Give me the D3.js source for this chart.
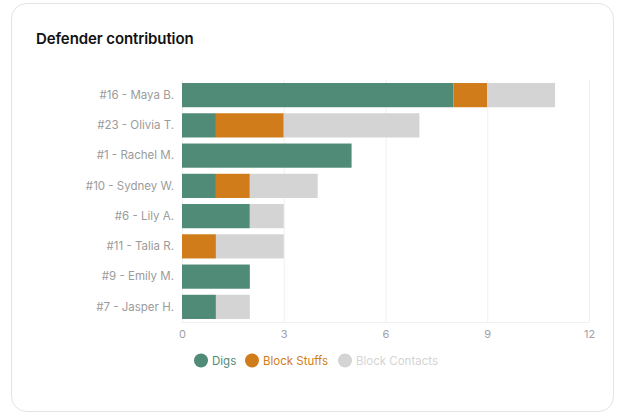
<!DOCTYPE html>
<html><head><meta charset="utf-8">
<script src="https://cdn.jsdelivr.net/npm/d3@7"></script>
<style>
html,body{margin:0;padding:0;background:#fff;}
svg{display:block;font-family:"Inter","Open Sans",sans-serif;}
</style></head>
<body>
<svg id="c" width="621" height="418"></svg>
<script>
const categories = ["#16 - Maya B.","#23 - Olivia T.","#1 - Rachel M.","#10 - Sydney W.","#6 - Lily A.","#11 - Talia R.","#9 - Emily M.","#7 - Jasper H."];
const seriesNames = ["Digs","Block Stuffs","Block Contacts"];
const digs = [8,1,5,1,2,0,2,1];
const blockStuffs = [1,2,0,1,0,1,0,0];
const blockContacts = [2,4,0,2,1,2,0,1];
const xTicks = [0,3,6,9,12];
const colors = ["#508b77","#d07c1a","#d4d4d4"];

const svg = d3.select("#c");
svg.append("rect").attr("x",11.5).attr("y",3.5).attr("width",602).attr("height",408)
  .attr("rx",15).attr("fill","#fff").attr("stroke","#e1e4e8");
svg.append("text").attr("x",36).attr("y",44).text("Defender contribution")
  .attr("font-size",15).attr("font-weight",600).attr("fill","#111").attr("letter-spacing","-0.1");

const x = d3.scaleLinear().domain([0,12]).range([182,589]);
const y = d3.scaleBand().domain(categories).range([80,322]).paddingInner(0.2).paddingOuter(0.1);

// grid
svg.append("g").selectAll("line").data(xTicks).join("line")
  .attr("x1",d=>x(d)+0.5).attr("x2",d=>x(d)+0.5).attr("y1",80).attr("y2",322)
  .attr("stroke","#f0f0f0");
svg.append("line").attr("x1",x(0)).attr("x2",x(12)).attr("y1",322.5).attr("y2",322.5).attr("stroke","#f0f0f0");

const rows = categories.map((c,i)=>({cat:c, Digs:digs[i], "Block Stuffs":blockStuffs[i], "Block Contacts":blockContacts[i]}));
const stack = d3.stack().keys(seriesNames)(rows);
svg.append("g").selectAll("g").data(stack).join("g").attr("fill",(d,i)=>colors[i])
  .selectAll("rect").data(d=>d).join("rect")
  .attr("x",d=>x(d[0])).attr("width",d=>x(d[1])-x(d[0]))
  .attr("y",d=>y(d.data.cat)).attr("height",y.bandwidth());

// y axis labels
const yAxis = d3.axisLeft(y).tickSize(0).tickPadding(8);
const yg = svg.append("g").attr("transform",`translate(${x(0)},0)`).call(yAxis);
yg.select(".domain").remove();
yg.selectAll("text").attr("font-size",11.5).attr("fill","#9b9b9b").attr("font-family","Inter, sans-serif");

// x axis
const xAxis = d3.axisBottom(x).tickValues(xTicks).tickSize(0).tickPadding(8);
const xg = svg.append("g").attr("transform","translate(0,322)").call(xAxis);
xg.select(".domain").remove();
xg.selectAll("text").attr("font-size",11).attr("fill","#a0a0a8").attr("font-family","Inter, sans-serif");

// legend
const legendX = [201,252,345];
const lg = svg.append("g").selectAll("g").data(seriesNames).join("g")
  .attr("transform",(d,i)=>`translate(${legendX[i]},360.5)`);
lg.append("circle").attr("r",7).attr("fill",(d,i)=>colors[i]);
lg.append("text").attr("x",11).attr("dy","0.35em").text(d=>d)
  .attr("font-size",11.5).attr("fill",(d,i)=>i===2?"#d4d4d4":colors[i]);
</script>
</body></html>
